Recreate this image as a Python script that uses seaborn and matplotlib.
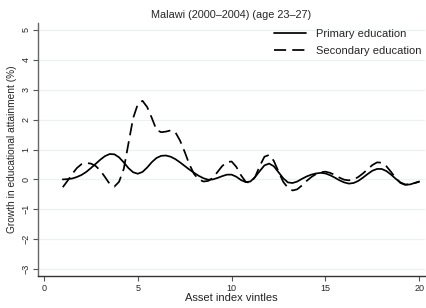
"""
Malawi (2000-2004), age 23-27: growth in educational attainment by asset vintile
"""
import numpy as np
import pandas as pd
import matplotlib
matplotlib.use("Agg")
import matplotlib.pyplot as plt
import seaborn as sns

# asset index vintiles (x), every quarter step
vintile = [1.00, 1.25, 1.50, 1.75, 2.00, 2.25, 2.50, 2.75, 3.00, 3.25,
           3.50, 3.75, 4.00, 4.25, 4.50, 4.75, 5.00, 5.25, 5.50, 5.75,
           6.00, 6.25, 6.50, 6.75, 7.00, 7.25, 7.50, 7.75, 8.00, 8.25,
           8.50, 8.75, 9.00, 9.25, 9.50, 9.75, 10.00, 10.25, 10.50, 10.75,
           11.00, 11.25, 11.50, 11.75, 12.00, 12.25, 12.50, 12.75, 13.00, 13.25,
           13.50, 13.75, 14.00, 14.25, 14.50, 14.75, 15.00, 15.25, 15.50, 15.75,
           16.00, 16.25, 16.50, 16.75, 17.00, 17.25, 17.50, 17.75, 18.00, 18.25,
           18.50, 18.75, 19.00, 19.25, 19.50, 19.75, 20.00]

primary = [0.00, 0.01, 0.03, 0.08, 0.15, 0.25, 0.38, 0.52, 0.66, 0.78,
           0.85, 0.84, 0.74, 0.57, 0.38, 0.24, 0.19, 0.25, 0.40, 0.58,
           0.72, 0.79, 0.80, 0.76, 0.68, 0.57, 0.45, 0.33, 0.22, 0.12,
           0.04, -0.01, 0.00, 0.05, 0.11, 0.16, 0.16, 0.09, -0.02, -0.09,
           -0.07, 0.08, 0.28, 0.47, 0.53, 0.44, 0.24, 0.04, -0.10, -0.12,
           -0.07, 0.02, 0.10, 0.16, 0.20, 0.22, 0.20, 0.14, 0.06, -0.03,
           -0.10, -0.14, -0.12, -0.05, 0.06, 0.18, 0.29, 0.35, 0.35, 0.28,
           0.16, 0.02, -0.10, -0.17, -0.17, -0.12, -0.07]

secondary = [-0.26, -0.05, 0.18, 0.38, 0.51, 0.55, 0.53, 0.45, 0.30, 0.08,
             -0.15, -0.24, -0.08, 0.35, 1.20, 2.05, 2.52, 2.63, 2.42, 2.05,
             1.65, 1.58, 1.60, 1.64, 1.58, 1.30, 0.92, 0.50, 0.18, 0.00,
             -0.07, -0.05, 0.05, 0.25, 0.45, 0.58, 0.60, 0.42, 0.14, -0.08,
             -0.12, 0.08, 0.45, 0.76, 0.82, 0.62, 0.26, -0.08, -0.28, -0.37,
             -0.33, -0.20, -0.05, 0.08, 0.18, 0.24, 0.26, 0.22, 0.15, 0.06,
             -0.01, -0.03, 0.00, 0.08, 0.20, 0.34, 0.48, 0.57, 0.56, 0.44,
             0.25, 0.04, -0.12, -0.18, -0.16, -0.12, -0.08]

yticks = [-3, -2, -1, 0, 1, 2, 3, 4, 5]
xticks = [0, 5, 10, 15, 20]

df = pd.DataFrame({"vintile": vintile, "Primary education": primary,
                   "Secondary education": secondary})
long = df.melt(id_vars="vintile", var_name="level", value_name="growth")

sns.set_style("white")
plt.rcParams['font.family'] = ['Liberation Sans', 'DejaVu Sans']

fig = plt.figure(figsize=(4.27, 3.08), dpi=100)
ax = fig.add_axes([0.089, 0.104, 0.906, 0.821])

# horizontal grid like Stata's s2 scheme
for yv in yticks:
    ax.axhline(yv, color='#eaf1f2', lw=0.9, zorder=0)

sns.lineplot(data=long, x="vintile", y="growth", style="level",
             style_order=["Primary education", "Secondary education"],
             dashes={"Primary education": "", "Secondary education": (7, 3.5)},
             color='black', linewidth=1.25, ax=ax, legend=True)

ax.set_xlim(-0.32, 20.3)
ax.set_ylim(-3.23, 5.23)
ax.set_xticks(xticks)
ax.set_yticks(yticks)
ax.set_yticklabels([str(t).replace('-', '\u2212') for t in yticks],
                   rotation=90, va='center')
ax.tick_params(axis='both', labelsize=6.5, length=3.5, width=0.8,
               color='#555555', direction='out', pad=2)
ax.tick_params(axis='x', bottom=True)
ax.tick_params(axis='y', left=True)

for side in ['top', 'right']:
    ax.spines[side].set_visible(False)
ax.spines['left'].set_color('#666666')
ax.spines['bottom'].set_color('#333333')
ax.spines['left'].set_linewidth(1.0)
ax.spines['bottom'].set_linewidth(1.0)

ax.set_title("Malawi (2000\u20132004) (age 23\u201327)", fontsize=7.8, pad=4)
ax.set_xlabel("Asset index vintles", fontsize=8, labelpad=0)
ax.set_ylabel("Growth in educational attainment (%)", fontsize=7.3, labelpad=3)

leg = ax.legend(loc='upper right', frameon=False, fontsize=8,
                handlelength=2.9, handletextpad=0.9, labelspacing=0.6,
                bbox_to_anchor=(1.017, 1.015))
for line in leg.get_lines():
    line.set_color('black')
    line.set_linewidth(1.25)

fig.savefig("out.png", dpi=100, facecolor='white')
